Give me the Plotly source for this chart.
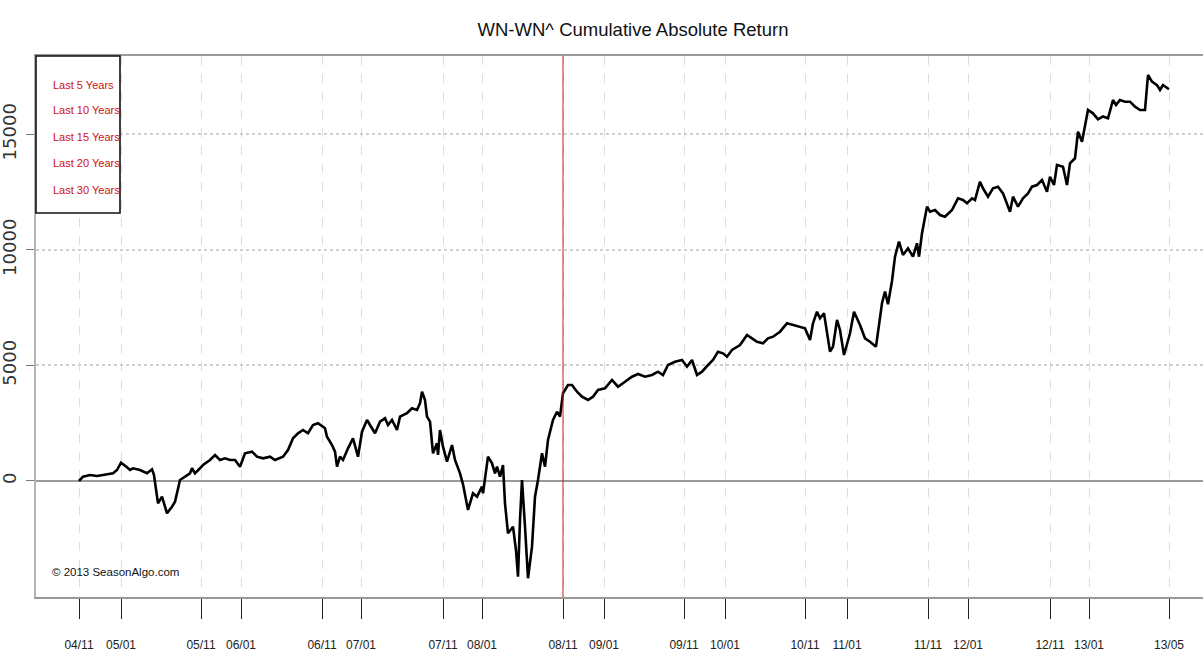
import plotly.graph_objects as go

# ---- data (trading-day index along the seasonal axis, cumulative return) ----
day = [0, 4, 11, 18, 24, 34, 38, 42, 48, 51, 54, 61, 68, 73, 75, 79, 83, 88, 93, 96,
       101, 106, 111, 113, 116, 121, 124, 131, 136, 141, 146, 151, 156, 161, 166, 173,
       178, 184, 191, 196, 204, 209, 214, 219, 224, 229, 234, 239, 241, 246, 248, 253,
       256, 258, 261, 264, 269, 274, 279, 283, 288, 293, 296, 301, 306, 309, 313, 318,
       321, 328, 333, 338, 341, 343, 346, 348, 351, 354, 358, 359, 361, 364, 368, 373,
       376, 381, 384, 389, 394, 398, 403, 404, 409, 413, 416, 418, 421, 424, 426, 429,
       434, 437, 439, 441, 443, 446, 449, 453, 456, 459, 463, 466, 469, 474, 478, 481,
       483, 484, 489, 493, 498, 503, 509, 514, 519, 526, 533, 539, 546, 553, 559, 566,
       573, 579, 584, 589, 596, 603, 608, 613, 618, 623, 629, 634, 639, 644, 648, 653,
       661, 668, 673, 678, 684, 689, 694, 701, 708, 714, 721, 726, 731, 734, 738, 741,
       745, 751, 754, 758, 761, 765, 771, 775, 781, 786, 791, 797, 803, 806, 809, 813,
       816, 820, 824, 829, 834, 838, 840, 843, 848, 851, 856, 861, 866, 873, 879, 884,
       888, 893, 896, 901, 904, 909, 914, 919, 924, 931, 934, 939, 944, 949, 953, 958,
       963, 968, 971, 975, 978, 984, 988, 991, 996, 999, 1003, 1009, 1014, 1019, 1024,
       1029, 1034, 1037, 1041, 1046, 1051, 1056, 1061, 1066, 1069, 1073, 1078, 1081,
       1084, 1088, 1090]

ret = [0, 186, 260, 216, 260, 333, 476, 793, 592, 476, 549, 476, 333, 506, 260, -966,
       -678, -1400, -1112, -896, 43, 186, 333, 550, 333, 550, 692, 909, 1125, 909, 982,
       909, 909, 620, 1199, 1268, 1052, 982, 1052, 909, 1052, 1342, 1848, 2065, 2208,
       2065, 2424, 2498, 2424, 2281, 1918, 1558, 1268, 619, 1052, 909, 1415, 1848, 1052,
       2134, 2640, 2281, 2065, 2567, 2714, 2424, 2640, 2208, 2784, 2931, 3147, 3075,
       3364, 3866, 3506, 2784, 2567, 1199, 1632, 1125, 2208, 1485, 835, 1558, 909, 333,
       -143, -1255, -532, -678, -247, -532, 1052, 766, 333, 620, 186, 692, -966, -2264,
       -1978, -3000, -4143, -1688, 43, -1978, -4212, -2844, -678, 43, 1199, 620, 1775,
       2640, 3000, 2784, 3649, 3797, 4156, 4156, 3866, 3649, 3506, 3649, 3939, 4013,
       4372, 4082, 4298, 4515, 4632, 4515, 4589, 4732, 4589, 5021, 5164, 5238, 4948,
       5238, 4589, 4732, 5021, 5238, 5597, 5527, 5381, 5671, 5887, 6320, 6177, 6030,
       5960, 6177, 6247, 6463, 6826, 6753, 6680, 6610, 6104, 6826, 7329, 7040, 7260,
       5600, 5814, 6970, 6537, 5454, 6394, 7329, 6753, 6177, 6030, 5814, 7693, 8200,
       7650, 8660, 9710, 10360, 9784, 10074, 9710, 10290, 9710, 10723, 11874, 11658,
       11732, 11515, 11442, 11732, 12238, 12164, 12020, 12238, 12164, 12957, 12671,
       12308, 12671, 12740, 12451, 11658, 12308, 11874, 12238, 12451, 12740, 12813,
       13030, 12524, 13173, 12813, 13679, 13606, 12813, 13753, 13970, 15123, 14690,
       16060, 15917, 15657, 15780, 15700, 16493, 16280, 16493, 16420, 16420, 16203,
       16060, 16060, 17576, 17287, 17140, 16926, 17140, 17000, 16957]

tick_days = [0, 42, 122, 162, 243, 282, 364, 403, 484, 525, 605, 646, 726, 768,
             849, 889, 971, 1010, 1090]
tick_labels = ["04/11", "05/01", "05/11", "06/01", "06/11", "07/01", "07/11", "08/01",
               "08/11", "09/01", "09/11", "10/01", "10/11", "11/01", "11/11", "12/01",
               "12/11", "13/01", "13/05"]
y_ticks = [0, 5000, 10000, 15000]
y_tick_labels = ["0", "5000", "10000", "15000"]
legend_items = ["Last 5 Years", "Last 10 Years", "Last 15 Years", "Last 20 Years", "Last 30 Years"]
split_day = tick_days[8]  # 08/11 marker

NARROW = "Liberation Sans Narrow, Arial Narrow, Liberation Sans, Arial, sans-serif"

fig = go.Figure()
fig.add_trace(go.Scatter(x=day, y=ret, mode="lines",
                         line=dict(color="black", width=2.6),
                         hoverinfo="skip", showlegend=False))

fig.update_layout(
    width=1203, height=659,
    margin=dict(l=36, r=0, t=56, b=62),
    paper_bgcolor="white", plot_bgcolor="white",
    title=dict(text="WN-WN^ Cumulative Absolute Return",
               font=dict(family=NARROW, size=18.5, color="#111"),
               x=(633 - 36) / 1167, xref="paper", xanchor="center",
               y=1 - 30 / 659, yref="container", yanchor="middle"),
    showlegend=False,
)

fig.update_xaxes(
    range=[-43, 1124],
    tickmode="array", tickvals=tick_days, ticktext=tick_labels,
    ticks="outside", ticklen=20, tickcolor="#222", tickwidth=1,
    ticklabelstandoff=16,
    tickfont=dict(family=NARROW, size=12, color="#222"),
    showgrid=True, gridcolor="#dddddd", griddash="dash", gridwidth=1,
    showline=True, linecolor="#9a9a9a", linewidth=2, mirror=True,
    zeroline=False,
)
fig.update_yaxes(
    range=[-5022, 18398],
    tickmode="array", tickvals=y_ticks, ticktext=y_tick_labels,
    tickangle=-90,
    ticks="outside", ticklen=8, tickcolor="#777", tickwidth=1,
    ticklabelstandoff=3,
    tickfont=dict(family="DejaVu Sans", size=18, color="#333"),
    showgrid=True, gridcolor="#cfcfcf", griddash="dot", gridwidth=1.5,
    zeroline=True, zerolinecolor="#9a9a9a", zerolinewidth=2,
    showline=True, linecolor="#b5b5b5", linewidth=2, mirror=False,
)

# red split line
fig.add_shape(type="line", xref="x", yref="paper", x0=split_day, x1=split_day,
              y0=0, y1=1, line=dict(color="#c42020", width=1), layer="above")

# legend box (top-left)
fig.add_shape(type="rect", xref="paper", yref="paper",
              x0=0, x1=(120 - 36) / 1167, y0=(597 - 213) / 541, y1=1,
              line=dict(color="#111", width=1.6), fillcolor="white", layer="above")
leg_y = [85, 110, 137, 163, 190]
for txt, py in zip(legend_items, leg_y):
    fig.add_annotation(text=txt, xref="paper", yref="paper",
                       x=(51 - 36) / 1167, y=(597 - py) / 541,
                       xanchor="left", yanchor="middle", showarrow=False,
                       font=dict(family=NARROW, size=11, color="#d01010"))

fig.add_annotation(text="© 2013 SeasonAlgo.com", xref="paper", yref="paper",
                   x=(50 - 36) / 1167, y=(597 - 572) / 541,
                   xanchor="left", yanchor="middle", showarrow=False,
                   font=dict(family=NARROW, size=11.5, color="#111"))

fig.write_html("out.html",
               config={"displayModeBar": False},
               post_script="document.body.style.margin='0px';document.body.style.overflow='hidden';")
